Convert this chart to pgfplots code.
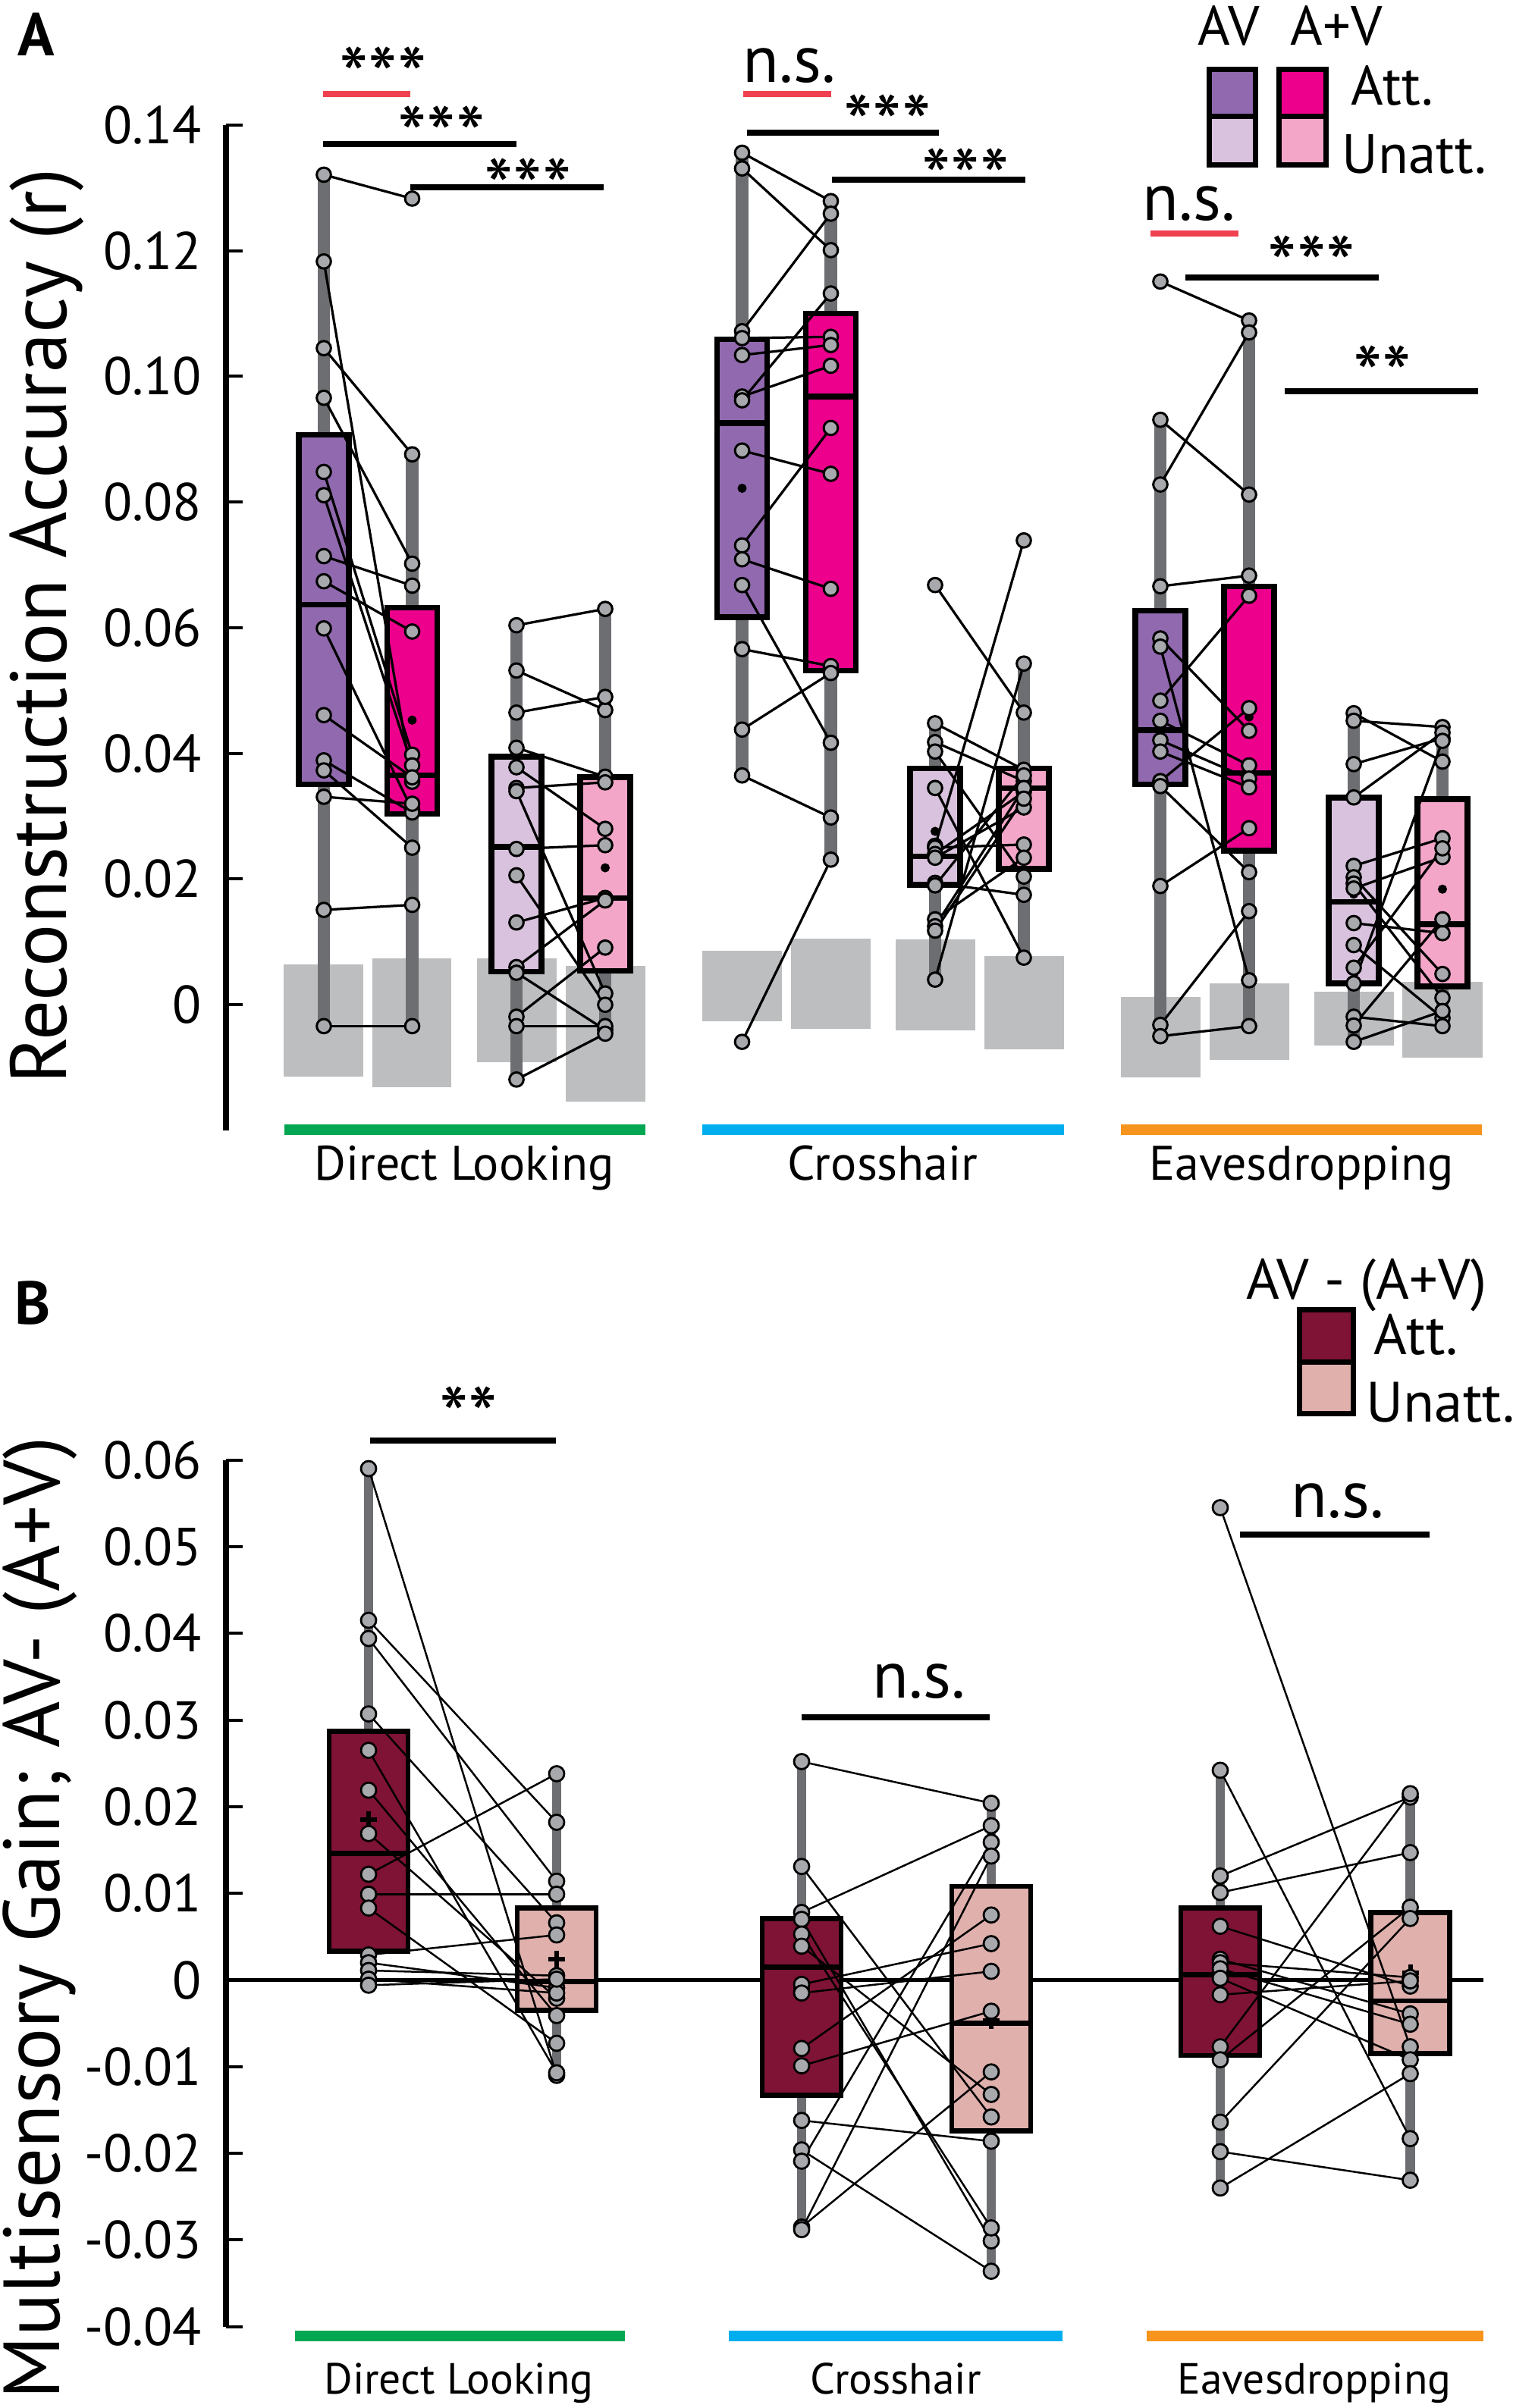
\documentclass[border=0pt]{standalone}
\usepackage{fontspec}
\setmainfont{PT Sans}
\usepackage{pgfplots}
\usepackage{pgfplotstable}
\pgfplotsset{compat=1.18}

\definecolor{avatt}{HTML}{9169AE}
\definecolor{apvatt}{HTML}{EC008C}
\definecolor{avun}{HTML}{D9C2DE}
\definecolor{apvun}{HTML}{F4A6C9}
\definecolor{gatt}{HTML}{7E1335}
\definecolor{gun}{HTML}{E0B0AC}
\definecolor{nullg}{HTML}{BCBEC0}
\definecolor{whg}{HTML}{6D6E71}
\definecolor{ptg}{HTML}{A7A9AC}
\definecolor{sigred}{HTML}{EF4150}
\definecolor{cgreen}{HTML}{00A651}
\definecolor{cblue}{HTML}{00AEEF}
\definecolor{corange}{HTML}{F7941D}

\newcommand\fsz[1]{\fontsize{#1}{#1}\selectfont}

% Panel A: a = AV, b = A+V
\pgfplotstableread{
a b
0.1321 0.1283
0.1183 0.0355
0.1045 0.0876
0.0966 0.0702
0.0848 0.0398
0.0811 0.0381
0.0714 0.0667
0.0674 0.0594
0.0599 0.0310
0.0461 0.0362
0.0389 0.0306
0.0373 0.0250
0.0331 0.0320
0.0151 0.0159
-0.0034 -0.0034
}\DLatt
\pgfplotstableread{
a b
0.0604 0.0630
0.0532 0.0469
0.0465 0.0490
0.0409 0.0363
0.0378 0.0280
0.0345 0.0354
0.0340 0.0018
0.0248 0.0254
0.0206 0.0000
0.0131 0.0170
0.0060 0.0166
0.0051 -0.0040
-0.0019 0.0091
-0.0034 -0.0034
-0.0119 -0.0046
}\DLun
\pgfplotstableread{
a b
0.1356 0.1279
0.1331 0.1201
0.1072 0.1259
0.1061 0.1063
0.1034 0.1050
0.0968 0.1017
0.0962 0.1132
0.0882 0.0845
0.0731 0.0918
0.0709 0.0662
0.0668 0.0417
0.0566 0.0539
0.0438 0.0528
0.0365 0.0298
-0.0059 0.0231
}\CHatt
\pgfplotstableread{
a b
0.0668 0.0465
0.0448 0.0374
0.0418 0.0356
0.0403 0.0204
0.0345 0.0075
0.0253 0.0739
0.0250 0.0255
0.0240 0.0339
0.0234 0.0314
0.0194 0.0175
0.0190 0.0365
0.0136 0.0234
0.0125 0.0345
0.0118 0.0328
0.0040 0.0543
}\CHun
\pgfplotstableread{
a b
0.1151 0.1089
0.0931 0.0812
0.0828 0.1070
0.0666 0.0683
0.0583 0.0436
0.0570 0.0039
0.0484 0.0651
0.0452 0.0381
0.0421 0.0360
0.0403 0.0346
0.0356 0.0472
0.0348 0.0211
0.0189 0.0281
-0.0032 0.0149
-0.0050 -0.0034
}\EVatt
\pgfplotstableread{
a b
0.0464 0.0387
0.0452 0.0442
0.0383 0.0424
0.0330 0.0433
0.0221 0.0265
0.0203 0.0049
0.0193 0.0011
0.0185 0.0235
0.0130 0.0114
0.0095 -0.0021
0.0059 0.0249
0.0034 0.0420
-0.0019 -0.0034
-0.0033 0.0136
-0.0059 -0.0010
}\EVun
% Panel B: a = Att., b = Unatt.
\pgfplotstableread{
a b
0.0590 -0.0110
0.0415 0.0182
0.0394 0.0114
0.0307 0.0066
0.0265 -0.0107
0.0219 -0.0041
0.0169 -0.0021
0.0122 0.0238
0.0099 0.0099
0.0083 -0.0073
0.0029 0.0052
0.0020 -0.0009
0.0011 0.0005
0.0001 -0.0015
-0.0006 0.0001
}\DLg
\pgfplotstableread{
a b
0.0252 0.0204
0.0131 -0.0158
0.0078 0.0178
0.0070 -0.0301
0.0053 -0.0286
0.0039 -0.0132
-0.0005 0.0042
-0.0015 0.0010
-0.0079 0.0075
-0.0099 -0.0036
-0.0162 -0.0186
-0.0196 -0.0336
-0.0209 0.0159
-0.0285 -0.0106
-0.0288 0.0143
}\CHg
\pgfplotstableread{
a b
0.0545 -0.0077
0.0242 -0.0183
0.0120 0.0211
0.0101 0.0147
0.0062 -0.0007
0.0024 -0.0039
0.0020 0.0003
0.0013 -0.0051
0.0002 -0.0092
-0.0017 -0.0001
-0.0077 0.0215
-0.0092 0.0084
-0.0164 0.0071
-0.0198 -0.0231
-0.0240 -0.0108
}\EVg

% helpers
\newcommand\nullrect[4]{\addplot[fill=nullg,draw=none] coordinates {(#1,#3) (#2,#3) (#2,#4) (#1,#4)} --cycle;}
\newcommand\whisk[4]{\addplot[whg,line width=#4] coordinates {(#1,#2) (#1,#3)};}
% x1 x2 q1 med q3 colour border
\newcommand\qbox[7]{%
  \addplot[fill=#6,draw=black,line width=#7,line join=miter] coordinates {(#1,#3) (#2,#3) (#2,#5) (#1,#5)} --cycle;
  \addplot[black,line width=#7] coordinates {(#1,#4) (#2,#4)};}
% table xa xb linewidth marksize markline
\newcommand\pairs[6]{%
  \addplot[black,line width=#4,quiver={u=#3-#2,v={\thisrow{b}-(\thisrow{a})}}] table[x expr=#2,y=a]{#1};
  \addplot[only marks,mark=*,mark size=#5,mark options={fill=ptg,draw=black,line width=#6}] table[x expr=#2,y=a]{#1};
  \addplot[only marks,mark=*,mark size=#5,mark options={fill=ptg,draw=black,line width=#6}] table[x expr=#3,y=b]{#1};}

\pgfplotsset{myax/.style={
  scale only axis, width=339.4pt, anchor=south west,
  xmin=298, xmax=1995, clip=false,
  axis x line=none, axis y line*=left,
  axis line style={line width=1.5pt,black},
  tick align=inside, major tick length=4.3pt,
  every tick/.style={line width=0.8pt,black},
  scaled y ticks=false,
  yticklabel style={font=\fsz{14pt},anchor=east,xshift=-2.9pt},
}}

\begin{document}
\begin{tikzpicture}
\path[use as bounding box] (0,0) rectangle (399pt,635.2pt);

% ---------------- Panel A ----------------
\begin{axis}[myax, at={(59.6pt,337pt)}, height=265.2pt,
  ymin=-0.02, ymax=0.14,
  ytick={0,0.02,0.04,0.06,0.08,0.10,0.12,0.14},
  yticklabels={0,0.02,0.04,0.06,0.08,0.10,0.12,0.14}]
\nullrect{374}{479}{0.0064}{-0.0114}
\nullrect{491}{595}{0.0074}{-0.0131}
\nullrect{629}{733.5}{0.0074}{-0.0091}
\nullrect{746}{851}{0.0062}{-0.0154}
\nullrect{925.7}{1031}{0.0086}{-0.0026}
\nullrect{1043}{1148}{0.0105}{-0.0038}
\nullrect{1181}{1285.6}{0.0104}{-0.0041}
\nullrect{1298}{1402.5}{0.0078}{-0.0071}
\nullrect{1477.7}{1582.6}{0.0012}{-0.0116}
\nullrect{1594.6}{1699.5}{0.0034}{-0.0088}
\nullrect{1732.6}{1837.5}{0.0021}{-0.0065}
\nullrect{1848.7}{1954.5}{0.0037}{-0.0084}

\whisk{427}{-0.0034}{0.1321}{3.3pt}
\whisk{543.5}{-0.0034}{0.0876}{3.3pt}
\whisk{681}{-0.0119}{0.0604}{3.3pt}
\whisk{798}{-0.0046}{0.0630}{3.3pt}
\whisk{978.5}{0.0365}{0.1356}{3.3pt}
\whisk{1095.5}{0.0231}{0.1279}{3.3pt}
\whisk{1233}{0.0040}{0.0448}{3.3pt}
\whisk{1350}{0.0075}{0.0543}{3.3pt}
\whisk{1530}{-0.0050}{0.0931}{3.3pt}
\whisk{1647}{-0.0034}{0.1070}{3.3pt}
\whisk{1785}{-0.0059}{0.0464}{3.3pt}
\whisk{1902}{-0.0034}{0.0442}{3.3pt}

\qbox{394}{460}{0.0351}{0.0637}{0.0907}{avatt}{1.5pt}
\qbox{510.5}{576.5}{0.0304}{0.0365}{0.0632}{apvatt}{1.5pt}
\qbox{648}{714}{0.0053}{0.0251}{0.0395}{avun}{1.5pt}
\qbox{765}{831}{0.0054}{0.0170}{0.0362}{apvun}{1.5pt}
\qbox{945.5}{1011.5}{0.0617}{0.0926}{0.1059}{avatt}{1.5pt}
\qbox{1062.5}{1128.5}{0.0532}{0.0968}{0.1100}{apvatt}{1.5pt}
\qbox{1200}{1266}{0.0191}{0.0236}{0.0376}{avun}{1.5pt}
\qbox{1317}{1383}{0.0216}{0.0345}{0.0376}{apvun}{1.5pt}
\qbox{1497}{1563}{0.0351}{0.0437}{0.0627}{avatt}{1.5pt}
\qbox{1614}{1680}{0.0245}{0.0369}{0.0666}{apvatt}{1.5pt}
\qbox{1752}{1818}{0.0034}{0.0164}{0.0330}{avun}{1.5pt}
\qbox{1869}{1935}{0.0029}{0.0128}{0.0327}{apvun}{1.5pt}

\addplot[only marks,mark=*,mark size=1pt,black] coordinates {
(543.5,0.0453) (681,0.0243) (798,0.0218) (978.5,0.0822) (1095.5,0.0845)
(1233,0.0276) (1530,0.0484) (1647,0.0458) (1785,0.0176) (1902,0.0184)};

\pairs{\DLatt}{427}{543.5}{0.65pt}{1.87pt}{0.6pt}
\pairs{\DLun}{681}{798}{0.65pt}{1.87pt}{0.6pt}
\pairs{\CHatt}{978.5}{1095.5}{0.65pt}{1.87pt}{0.6pt}
\pairs{\CHun}{1233}{1350}{0.65pt}{1.87pt}{0.6pt}
\pairs{\EVatt}{1530}{1647}{0.65pt}{1.87pt}{0.6pt}
\pairs{\EVun}{1785}{1902}{0.65pt}{1.87pt}{0.6pt}
\end{axis}

% ---------------- Panel B ----------------
\begin{axis}[myax, at={(59.6pt,21.44pt)}, height=228.64pt,
  ymin=-0.04, ymax=0.06,
  ytick={-0.04,-0.03,-0.02,-0.01,0,0.01,0.02,0.03,0.04,0.05,0.06},
  yticklabels={-0.04,-0.03,-0.02,-0.01,0,0.01,0.02,0.03,0.04,0.05,0.06}]
\addplot[black,line width=0.9pt] coordinates {(298,0) (1956,0)};

\whisk{486}{-0.0006}{0.0590}{2.5pt}
\whisk{734}{-0.0110}{0.0238}{2.5pt}
\whisk{1057}{-0.0288}{0.0252}{2.5pt}
\whisk{1307}{-0.0336}{0.0204}{2.5pt}
\whisk{1609}{-0.0240}{0.0243}{2.5pt}
\whisk{1859.5}{-0.0229}{0.0215}{2.5pt}

\qbox{434}{538}{0.0033}{0.0146}{0.0287}{gatt}{1.35pt}
\qbox{682}{786}{-0.0035}{-0.0002}{0.0083}{gun}{1.35pt}
\qbox{1005}{1109}{-0.0133}{0.0015}{0.0071}{gatt}{1.35pt}
\qbox{1255}{1359}{-0.0174}{-0.0050}{0.0108}{gun}{1.35pt}
\qbox{1557}{1661}{-0.0087}{0.0006}{0.0083}{gatt}{1.35pt}
\qbox{1807.5}{1911.5}{-0.0085}{-0.0024}{0.0078}{gun}{1.35pt}

\addplot[only marks,mark=+,mark size=2.2pt,black,line width=1.2pt] coordinates {
(486,0.0185) (734,0.0024) (1057,-0.0012) (1307,-0.0047) (1609,0.0024) (1859.5,0.0008)};

\pairs{\DLg}{486}{734}{0.5pt}{2pt}{0.55pt}
\pairs{\CHg}{1057}{1307}{0.5pt}{2pt}{0.55pt}
\pairs{\EVg}{1609}{1859.5}{0.5pt}{2pt}{0.55pt}
\end{axis}

% ---------------- annotations (pixel frame, y downwards) ----------------
\begin{scope}[x=0.2pt,y=-0.2pt,yshift=635.2pt]
\tikzset{star/.style={anchor=north,inner sep=0pt,font=\fsz{22pt}},
         ns/.style={anchor=base,inner sep=0pt,font=\fsz{17.5pt}},
         sig/.style={line width=1.6pt}}
% panel labels
\node[font=\bfseries\fsz{16pt}] at (48,45) {A};
\node[font=\bfseries\fsz{16pt}] at (43,1719) {B};
% y labels
\node[rotate=90,font=\fsz{21pt}] at (62,826) {Reconstruction Accuracy (r)};
\node[rotate=90,font=\fsz{21pt}] at (53,2530) {Multisensory Gain; AV- (A+V)};

% significance, panel A
\draw[sig,sigred] (426,124) -- (541,124);
\node[star] at (505,61) {***};
\draw[sig] (426,190) -- (681,190);
\node[star] at (582,139) {***};
\draw[sig] (541,246.6) -- (796,246.6);
\node[star] at (696,208) {***};
\node[ns] at (1041,109) {n.s.};
\draw[sig,sigred] (980,124) -- (1096,124);
\draw[sig] (985,175.5) -- (1238,175.5);
\node[star] at (1170,124) {***};
\draw[sig] (1097,237) -- (1352,237);
\node[star] at (1273,195) {***};
\node[ns] at (1568,291) {n.s.};
\draw[sig,sigred] (1517,308.4) -- (1633,308.4);
\draw[sig] (1563.5,365.6) -- (1817.6,365.6);
\node[star] at (1729.5,309.6) {***};
\draw[sig] (1694.5,516) -- (1949,516);
\node[star] at (1823,454.7) {**};

% significance, panel B
\draw[sig] (488,1900) -- (733,1900);
\node[star] at (618,1828) {**};
\draw[sig] (1057,2265) -- (1305,2265);
\node[ns] at (1212,2240) {n.s.};
\draw[sig] (1635,2024) -- (1885,2024);
\node[ns] at (1764,2002) {n.s.};

% condition bars and names, panel A
\draw[cgreen,line width=2.8pt] (375,1490) -- (851,1490);
\draw[cblue,line width=2.8pt] (926,1490) -- (1403,1490);
\draw[corange,line width=2.8pt] (1478,1490) -- (1954,1490);
\node[anchor=base,inner sep=0pt,font=\fsz{12.8pt}] at (612,1557) {Direct Looking};
\node[anchor=base,inner sep=0pt,font=\fsz{12.8pt}] at (1164,1557) {Crosshair};
\node[anchor=base,inner sep=0pt,font=\fsz{12.8pt}] at (1716,1557) {Eavesdropping};

% condition bars and names, panel B
\draw[cgreen,line width=2.8pt] (389,3081) -- (824,3081);
\draw[cblue,line width=2.8pt] (961,3081) -- (1401,3081);
\draw[corange,line width=2.8pt] (1512,3081) -- (1956,3081);
\node[anchor=base,inner sep=0pt,font=\fsz{11.5pt}] at (605,3158) {Direct Looking};
\node[anchor=base,inner sep=0pt,font=\fsz{11.5pt}] at (1181,3158) {Crosshair};
\node[anchor=base,inner sep=0pt,font=\fsz{11.5pt}] at (1733,3158) {Eavesdropping};

% legend A
\node[anchor=base,inner sep=0pt,font=\fsz{14.6pt}] at (1620,60) {AV};
\node[anchor=base,inner sep=0pt,font=\fsz{14.6pt}] at (1762,60) {A+V};
\fill[avatt] (1594.5,91.5) rectangle (1655.5,154);
\fill[avun] (1594.5,154) rectangle (1655.5,217.5);
\draw[line width=1.4pt] (1594.5,91.5) rectangle (1655.5,217.5) (1594.5,154) -- (1655.5,154);
\fill[apvatt] (1687,91.5) rectangle (1749,154);
\fill[apvun] (1687,154) rectangle (1749,217.5);
\draw[line width=1.4pt] (1687,91.5) rectangle (1749,217.5) (1687,154) -- (1749,154);
\node[anchor=base west,inner sep=0pt,font=\fsz{14.6pt}] at (1781,139) {Att.};
\node[anchor=base west,inner sep=0pt,font=\fsz{14.6pt}] at (1769,229) {Unatt.};

% legend B
\node[anchor=base,inner sep=0pt,font=\fsz{15pt}] at (1802,1714) {AV - (A+V)};
\fill[gatt] (1713.5,1727.5) rectangle (1784.5,1797);
\fill[gun] (1713.5,1797) rectangle (1784.5,1864.5);
\draw[line width=1.4pt] (1713.5,1727.5) rectangle (1784.5,1864.5) (1713.5,1797) -- (1784.5,1797);
\node[anchor=base west,inner sep=0pt,font=\fsz{15pt}] at (1811,1787) {Att.};
\node[anchor=base west,inner sep=0pt,font=\fsz{15pt}] at (1801,1876) {Unatt.};
\end{scope}
\end{tikzpicture}
\end{document}
